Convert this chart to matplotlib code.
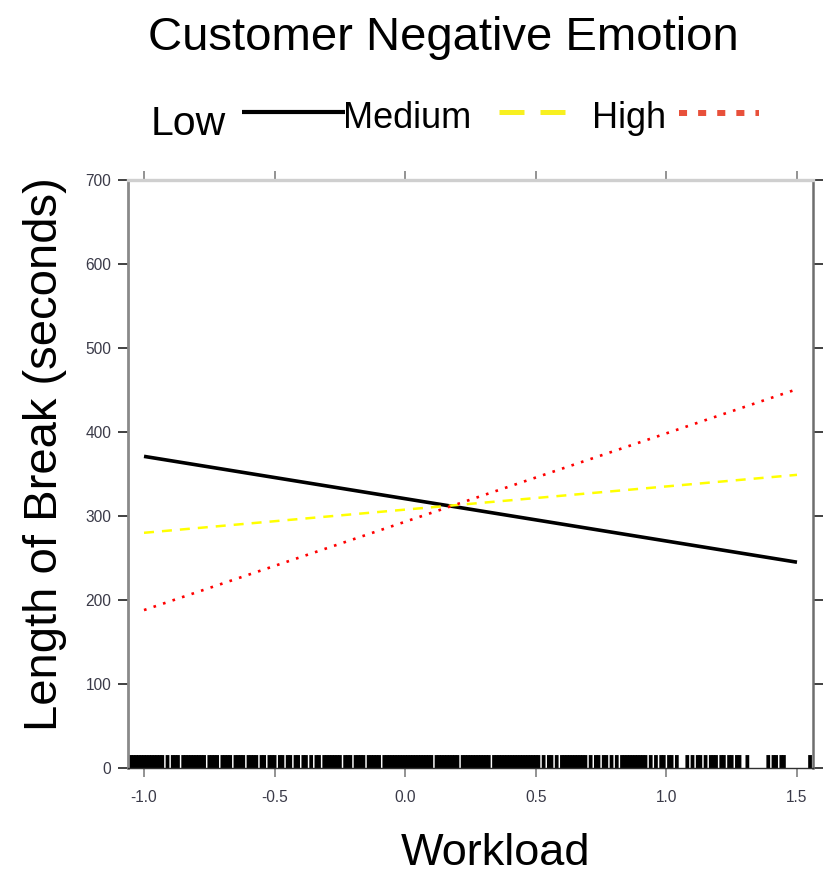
import matplotlib
matplotlib.use("Agg")
import matplotlib.pyplot as plt
from matplotlib.lines import Line2D

# Fitted break length (seconds) at the ends of the workload range
workload_ends = [-1.0, 1.5]
low_emotion = [371, 245]
medium_emotion = [280, 349]
high_emotion = [188, 451]

x_ticks = [-1.0, -0.5, 0.0, 0.5, 1.0, 1.5]
x_tick_labels = ["-1.0", "-0.5", "0.0", "0.5", "1.0", "1.5"]
y_ticks = [0, 100, 200, 300, 400, 500, 600, 700]
y_tick_labels = ["0", "100", "200", "300", "400", "500", "600", "700"]

# Observed workload values (rug)
rug_workload = [
    -1.06, -1.05, -1.04, -1.03, -1.02, -1.01, -1.00, -0.99, -0.98, -0.97,
    -0.96, -0.95, -0.94, -0.93, -0.91, -0.89, -0.88, -0.87, -0.85, -0.84,
    -0.83, -0.82, -0.81, -0.80, -0.79, -0.78, -0.77, -0.75, -0.74, -0.73,
    -0.72, -0.70, -0.69, -0.68, -0.67, -0.65, -0.64, -0.63, -0.62, -0.60,
    -0.59, -0.58, -0.57, -0.55, -0.54, -0.52, -0.51, -0.50, -0.48, -0.47,
    -0.45, -0.44, -0.42, -0.41, -0.39, -0.38, -0.36, -0.34, -0.33, -0.31,
    -0.30, -0.29, -0.28, -0.27, -0.26, -0.25, -0.23, -0.22, -0.21, -0.19,
    -0.18, -0.17, -0.16, -0.14, -0.13, -0.12, -0.11, -0.10, -0.08, -0.07,
    -0.06, -0.05, -0.04, -0.03, -0.02, -0.01, 0.00, 0.01, 0.02, 0.03,
    0.04, 0.05, 0.06, 0.07, 0.08, 0.09, 0.10, 0.12, 0.13, 0.14,
    0.15, 0.16, 0.17, 0.18, 0.19, 0.20, 0.22, 0.23, 0.24, 0.25,
    0.26, 0.27, 0.28, 0.29, 0.30, 0.31, 0.32, 0.34, 0.35, 0.36,
    0.37, 0.38, 0.39, 0.40, 0.41, 0.42, 0.43, 0.44, 0.45, 0.46,
    0.47, 0.48, 0.49, 0.50, 0.51, 0.53, 0.55, 0.56, 0.58, 0.60,
    0.61, 0.62, 0.63, 0.64, 0.65, 0.66, 0.67, 0.68, 0.69, 0.71,
    0.73, 0.74, 0.76, 0.77, 0.79, 0.81, 0.83, 0.84, 0.85, 0.86,
    0.87, 0.88, 0.89, 0.90, 0.91, 0.92, 0.94, 0.96, 0.98, 0.99,
    1.01, 1.02, 1.04, 1.08, 1.10, 1.12, 1.13, 1.15, 1.17, 1.18,
    1.19, 1.21, 1.22, 1.24, 1.25, 1.27, 1.28, 1.31, 1.39, 1.41,
    1.42, 1.44, 1.45, 1.55,
]

W, H = 827, 875


def fx(px):
    return px / W


def fy(py):
    return 1 - py / H


plt.rcParams["font.family"] = ["Liberation Sans", "DejaVu Sans"]

fig = plt.figure(figsize=(W / 100, H / 100), dpi=100)
ax = fig.add_axes([fx(128), fy(768), (813 - 128) / W, (768 - 180) / H])

ax.plot(workload_ends, low_emotion, color="black", lw=2.6, solid_capstyle="butt")
ax.plot(workload_ends, medium_emotion, color="#ffff00", lw=1.8,
        dashes=(4.0, 3.2), dash_capstyle="butt")
ax.plot(workload_ends, high_emotion, color="#ff0000", lw=1.9,
        dashes=(1.0, 2.8), dash_capstyle="butt")

ax.vlines(rug_workload, 0, 0.022, transform=ax.get_xaxis_transform(),
          colors="black", lw=2.7, snap=False, antialiased=True)

ax.set_xlim(-1.0613, 1.5613)
ax.set_ylim(0, 700)
ax.set_xticks(x_ticks, x_tick_labels)
ax.set_yticks(y_ticks, y_tick_labels)

ax.tick_params(axis="both", direction="out", labelsize=11.2,
               labelcolor="#3a3a48")
ax.tick_params(axis="x", length=6.5, width=1.2, color="#808080", pad=9,
               top=True, labeltop=False)
ax.tick_params(axis="y", length=7, width=1.4, color="#404040", pad=5,
               right=True, labelright=False)

ax.spines["left"].set_color("#8a8a8a")
ax.spines["left"].set_linewidth(2.0)
ax.spines["right"].set_color("#6e6e6e")
ax.spines["right"].set_linewidth(1.8)
ax.spines["top"].set_color("#cfcfcf")
ax.spines["top"].set_linewidth(2.4)
ax.spines["bottom"].set_color("#303030")
ax.spines["bottom"].set_linewidth(1.0)

# Title, axis labels
fig.text(fx(443), fy(50), "Customer Negative Emotion", fontsize=34,
         ha="center", va="baseline", color="black")
fig.text(fx(45), fy(454), "Length of Break (seconds)", fontsize=34,
         rotation=90, ha="center", va="center", color="black")
fig.text(fx(496), fy(865), "Workload", fontsize=32.5, ha="center",
         va="baseline", color="black")

# Key above the panel
fig.text(fx(151), fy(135), "Low", fontsize=29.5, ha="left", va="baseline")
fig.text(fx(343), fy(128), "Medium", fontsize=26, ha="left", va="baseline")
fig.text(fx(592), fy(128), "High", fontsize=26, ha="left", va="baseline")

fig.add_artist(Line2D([fx(242), fx(345)], [fy(112), fy(112)],
                      transform=fig.transFigure, color="black", lw=3.0,
                      solid_capstyle="butt"))
fig.add_artist(Line2D([fx(499), fx(565)], [fy(112), fy(112)],
                      transform=fig.transFigure, color="#f8f020", lw=3.6,
                      dashes=(5.0, 3.2), dash_capstyle="butt"))
fig.add_artist(Line2D([fx(679), fx(759)], [fy(113), fy(113)],
                      transform=fig.transFigure, color="#e8503a", lw=4.3,
                      dashes=(1.35, 1.85), dash_capstyle="butt"))

fig.savefig("out.png", dpi=100, facecolor="white")
